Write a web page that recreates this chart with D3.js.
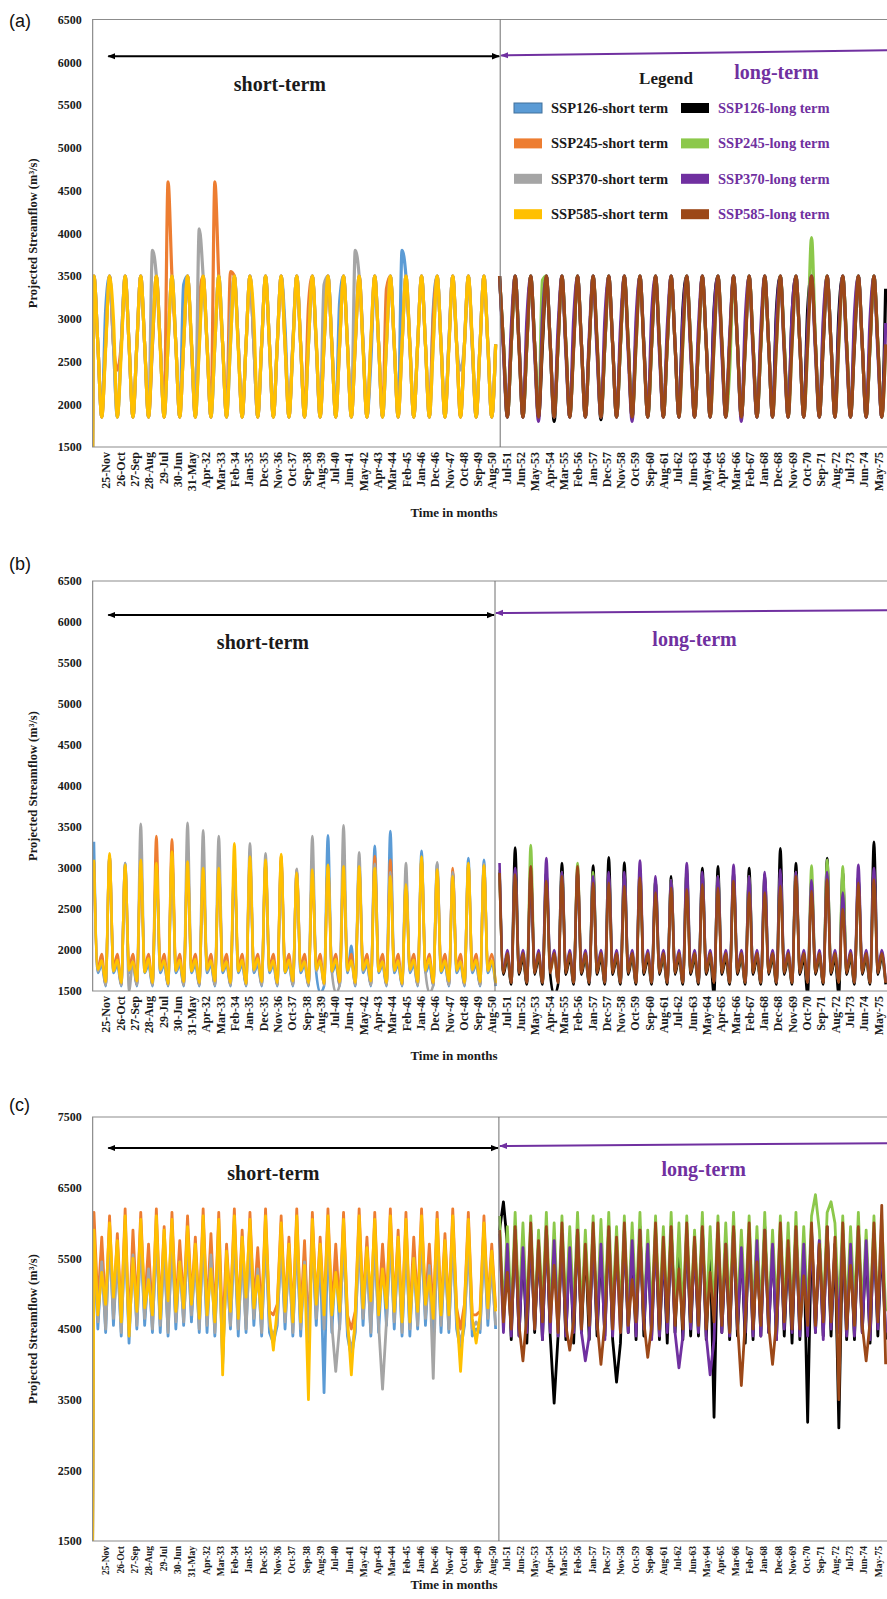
<!DOCTYPE html>
<html><head><meta charset="utf-8">
<script src="https://cdn.jsdelivr.net/npm/d3@7"></script>
<style>
body{margin:0;background:#fff}
svg{display:block}
text{font-family:"Liberation Serif","Times New Roman",serif;font-weight:bold;fill:#1a1a1a}
</style></head><body>
<svg id="chart" width="887" height="1599"></svg>
<script>
// ---------------- DATA ----------------
// x tick labels (every 11 months starting Nov 2025)
const tickLabels = ["25-Nov","26-Oct","27-Sep","28-Aug","29-Jul","30-Jun","31-May","Apr-32","Mar-33","Feb-34","Jan-35","Dec-35","Nov-36","Oct-37","Sep-38","Aug-39","Jul-40","Jun-41","May-42","Apr-43","Mar-44","Feb-45","Jan-46","Dec-46","Nov-47","Oct-48","Sep-49","Aug-50","Jul-51","Jun-52","May-53","Apr-54","Mar-55","Feb-56","Jan-57","Dec-57","Nov-58","Oct-59","Sep-60","Aug-61","Jul-62","Jun-63","May-64","Apr-65","Mar-66","Feb-67","Jan-68","Dec-68","Nov-69","Oct-70","Sep-71","Aug-72","Jul-73","Jun-74","May-75"];
const tickMonths = tickLabels.map((d,i)=>10+11*i); // months since Jan 2025
const yTicksAB = [1500,2000,2500,3000,3500,4000,4500,5000,5500,6000,6500];
const yTicksC = [1500,2500,3500,4500,5500,6500,7500];
const seriesNames = ["SSP126-short term","SSP245-short term","SSP370-short term","SSP585-short term","SSP126-long term","SSP245-long term","SSP370-long term","SSP585-long term"];
// values sampled Feb, May, Aug, Nov of each year; short term 2025-2050, long term 2051-2075
const shortStartMonth = 1, longStartMonth = 313, sampleStep = 3;
const firstValue = {a:1500, b:null, c:1500}; // Jan 2025 value

// ---- panel (a)
const aShort126 = [
3500,2700,1850,3100, 3500,2700,1850,2700, 3500,2700,1850,2700, 3500,2700,1850,2700,
3500,2700,1850,2700, 3500,2700,1850,3400, 3500,2700,1850,2700, 3500,2700,1850,2700,
3500,2700,1850,2700, 3500,2700,1850,2700, 3500,2700,1850,2700, 3500,2700,1850,2700,
3500,2900,1850,2700, 3500,2700,1850,2700, 3500,2700,1850,2700, 3500,2700,1850,3200,
3500,2700,1850,2700, 3500,2700,1850,2500, 3500,2700,1850,2700, 3500,2700,1850,3800,
3500,2700,1850,2700, 3500,2700,1850,3100, 3500,2700,1850,2700, 3500,2700,1850,2700,
3500,2700,1850,2700, 3500,2700,1850,2700];
const aShort245 = [
3500,2700,1850,2700, 3500,2700,2400,2700, 3500,2700,1850,2700, 3500,2700,1850,2700,
3500,2700,1850,4600, 3500,2700,1850,2700, 3500,2700,1850,3200, 3500,2700,1850,4600,
3500,2700,1850,3550, 3500,2700,1850,2700, 3500,2700,1850,2700, 3500,2700,1850,2700,
3500,2700,1850,2700, 3500,2700,1850,3150, 3500,2700,1850,2700, 3500,2700,1850,2700,
3500,2700,1850,2700, 3500,2700,1850,2700, 3500,2700,1850,3350, 3500,2700,1850,2700,
3500,2700,1850,2700, 3500,2700,1850,3000, 3500,2700,1850,2700, 3500,2700,1850,2700,
3500,2700,1850,2700, 3500,2700,1850,2700];
const aShort370 = [
3500,2700,1850,2700, 3500,2700,1850,2700, 3500,2700,1850,2700, 3500,2700,1850,3800,
3500,2700,1850,2700, 3500,2700,1850,2700, 3500,2700,1850,4050, 3500,2700,1850,2700,
3500,2700,1850,3000, 3500,2700,1850,2700, 3500,2700,1850,2700, 3500,2700,1850,2700,
3500,2700,1850,2700, 3500,2700,1850,2700, 3500,2700,1850,3400, 3500,2700,1850,2700,
3500,2700,1850,3800, 3500,2700,1850,2700, 3500,2700,1850,2700, 3500,2700,1850,2700,
3500,2700,1850,2700, 3500,2700,1850,2700, 3500,2700,1850,2700, 3500,2700,2400,2700,
3500,2700,1850,2700, 3500,2700,1850,2700];
const aShort585 = [
3500,2700,1850,2650, 3500,3000,1850,2600, 3500,2700,1850,2700, 3500,2700,1850,2750,
3500,2650,1850,2700, 3500,2700,1850,2700, 3500,2750,1850,2650, 3500,2700,1850,2700,
3500,2700,1850,2700, 3500,2650,1850,2700, 3500,3000,1850,2700, 3500,2700,1850,2700,
3500,2700,1850,2650, 3500,2700,1850,2700, 3500,2750,1850,2700, 3500,2700,1850,2700,
3500,2700,1850,2700, 3500,2650,1850,2750, 3500,2700,1850,2700, 3500,2700,1850,2700,
3500,2700,1850,2700, 3500,2700,1850,2700, 3500,2700,1850,2650, 3500,2700,1850,2700,
3500,2750,1850,2700, 3500,2700,1850,2700];
const aLong126 = [
3500,2700,1850,2700, 3500,2700,1850,2700, 3500,2700,1850,2700, 3500,2700,1800,2700,
3500,2700,1850,2700, 3500,2700,1850,2700, 3500,2700,1820,2700, 3500,2700,1850,2700,
3500,2700,1850,2800, 3500,2700,1850,2700, 3500,2700,1850,2700, 3500,2700,1850,3100,
3500,2700,1850,2700, 3500,2700,1850,3100, 3500,2700,1850,2700, 3500,2700,1850,2700,
3500,2700,1850,2700, 3500,2700,1850,3100, 3500,2700,1850,3050, 3500,2700,1850,3100,
3500,2700,1850,2700, 3500,2700,1850,3050, 3500,2700,1850,2700, 3500,2700,1850,2700,
3500,2700,1850,3350];
const aLong245 = [
3500,2700,1850,2700, 3500,2700,1850,2700, 3500,2700,1850,3450, 3500,2700,1850,2700,
3500,2700,1850,2700, 3500,2700,1850,2700, 3500,2700,1850,2700, 3500,2700,1850,2700,
3500,2700,1850,2700, 3500,2700,1850,2700, 3500,2700,1850,2700, 3500,2700,1850,2700,
3500,2700,1850,2700, 3500,2700,1850,2700, 3500,2700,1850,2400, 3500,2700,1850,2700,
3500,2700,1850,2700, 3500,2700,1850,2700, 3500,2700,1850,2700, 3500,2700,1850,2700,
3950,2700,1850,2900, 3500,2700,1850,2700, 3500,2700,1850,2900, 3500,2700,1850,2700,
3500,2700,1850,2700];
const aLong370 = [
3500,2600,1850,2900, 3500,2700,1850,3000, 3500,2600,1800,3000, 3500,2700,1850,2900,
3500,2600,1850,3000, 3500,2700,1850,2800, 3500,2600,1850,3000, 3500,2700,1850,2900,
3500,2600,1800,3000, 3500,2700,1850,3050, 3500,2600,1850,2900, 3500,2700,1850,3000,
3500,2600,1850,2900, 3500,2700,1850,3050, 3500,2600,1850,2800, 3500,2700,1800,3000,
3500,2600,1850,2900, 3500,2700,1850,3000, 3500,2600,1850,3050, 3500,2700,1850,2900,
3500,2600,1850,3000, 3500,2700,1850,2900, 3500,2600,1850,3050, 3500,2700,1850,3000,
3500,2600,1850,2950];
const aLong585 = [
3500,2700,1850,2700, 3500,2650,1850,2700, 3500,2700,1850,2750, 3500,2700,1850,2700,
3500,2700,1850,2650, 3500,2700,1850,2700, 3500,2750,1850,2700, 3500,2700,1850,2700,
3500,2700,1850,2700, 3500,2650,1850,2700, 3500,2700,1850,2700, 3500,2700,1850,2750,
3500,2700,1850,2700, 3500,2700,1850,2700, 3500,2750,1850,2700, 3500,2700,1850,2650,
3500,2700,1850,2700, 3500,2700,1850,2700, 3500,2650,1850,2700, 3500,2700,1850,2700,
3500,2700,1850,2700, 3500,2700,1850,2750, 3500,2700,1850,2700, 3500,2700,1850,2700,
3500,2700,1850,2700];

// ---- panel (b)
const bShort126 = [
3320,1720,1820,1560, 3150,1720,1820,1560, 3060,1720,1820,1560, 3050,1720,1820,1560,
3000,1720,1820,1560, 3100,1720,1820,1560, 3050,1720,1820,1560, 2950,1720,1820,1560,
2980,1720,1820,1560, 3050,1720,1820,1560, 3050,1720,1820,1560, 3050,1720,1820,1560,
3100,1720,1820,1560, 2950,1720,1820,1560, 3000,1720,1480,1560, 3400,1720,1820,1560,
3000,1720,2050,1560, 3050,1720,1820,1560, 3270,1720,1820,1560, 3450,1720,1820,1560,
2850,1720,1820,1560, 3210,1720,1820,1560, 3050,1720,1820,1560, 2950,1720,1820,1560,
3120,1720,1820,1560, 3100,1720,1820,1560];
const bShort245 = [
3080,1790,1950,1580, 3150,1790,1950,1580, 3020,1790,1950,1580, 3080,1790,1950,1580,
3390,1790,1950,1580, 3350,1790,1950,1580, 3100,1790,1950,1580, 2960,1790,1950,1580,
3020,1790,1950,1580, 3050,1790,1950,1580, 3100,1790,1950,1580, 3050,1790,1950,1580,
3150,1790,1950,1580, 2980,1790,1950,1580, 2950,1790,1950,1580, 3020,1790,1950,1580,
3000,1790,1950,1580, 3000,1790,1950,1580, 3145,1790,1950,1580, 3100,1790,1950,1580,
2850,1790,1950,1580, 3100,1790,1950,1580, 3000,1790,1950,1580, 3000,1790,1950,1580,
3030,1790,1950,1580, 3030,1790,1950,1580];
const bShort370 = [
3050,1740,1860,1570, 3120,1740,1860,1570, 3060,1500,1860,1570, 3540,1740,1860,1570,
3000,1740,1860,1570, 3150,1740,1860,1570, 3550,1740,1860,1570, 3460,1740,1860,1570,
3390,1740,1860,1570, 3000,1740,1860,1570, 3300,1740,1860,1570, 3180,1740,1860,1570,
3050,1740,1860,1570, 2990,1740,1860,1570, 3390,1740,1860,1570, 3000,1740,1480,1570,
3520,1740,1860,1570, 3190,1740,1860,1570, 3050,1740,1860,1570, 2950,1740,1860,1570,
3060,1740,1860,1570, 3100,1740,1480,1570, 3070,1740,1860,1570, 2950,1740,1860,1570,
3050,1740,1860,1570, 3050,1740,1860,1570];
const bShort585 = [
3100,1760,1870,1610, 3180,1740,1880,1600, 3040,1750,1860,1620, 3100,1730,1900,1600,
3060,1760,1870,1590, 3200,1750,1880,1610, 3080,1740,1890,1600, 3000,1760,1870,1620,
3000,1750,1860,1600, 3300,1740,1880,1590, 3140,1760,1900,1610, 3100,1750,1870,1600,
3170,1730,1880,1620, 2940,1750,1860,1600, 2980,1760,1870,1590, 3040,1740,1890,1610,
3020,1750,1870,1600, 3020,1760,1880,1620, 3000,1740,1860,1600, 2900,1750,1870,1590,
2800,1760,1880,1610, 3140,1750,1900,1600, 2980,1740,1870,1620, 2900,1750,1860,1600,
3060,1760,1880,1610, 3030,1750,1870,1600];
const bLong126 = [
2950,1700,1900,1580, 3250,1700,1900,1580, 2900,1700,1900,1580, 2950,1700,1450,1580,
3060,1700,1900,1580, 2950,1700,1900,1580, 3030,1700,1900,1580, 3130,1700,1900,1580,
3065,1700,1900,1580, 2980,1700,1900,1580, 2850,1700,1900,1580, 2900,1700,1900,1580,
2950,1700,1900,1580, 3000,1700,1900,1450, 3020,1700,1900,1580, 2950,1700,1900,1580,
3000,1700,1900,1580, 2920,1700,1900,1580, 3240,1700,1900,1580, 3060,1700,1900,1450,
2800,1700,1900,1580, 3120,1700,1900,1450, 2950,1700,1900,1580, 2900,1700,1900,1580,
3320,1700,1900,1580];
const bLong245 = [
2980,1750,1950,1610, 2950,1750,1950,1610, 3280,1750,1950,1610, 2900,1750,1950,1610,
2950,1750,1950,1610, 3060,1750,1950,1610, 2950,1750,1950,1610, 2900,1750,1950,1610,
2900,1750,1950,1610, 2950,1750,1950,1610, 2850,1750,1950,1610, 2850,1750,1950,1610,
3000,1750,1950,1610, 2900,1750,1950,1610, 2900,1750,1950,1610, 2900,1750,1950,1610,
2900,1750,1950,1610, 2850,1750,1950,1610, 2900,1750,1950,1610, 2950,1750,1950,1610,
3030,1750,1950,1610, 3100,1750,1950,1610, 3020,1750,1950,1610, 2850,1750,1950,1610,
2900,1750,1950,1610];
const bLong370 = [
3060,1760,2000,1610, 3000,1760,2000,1610, 2950,1760,2000,1610, 3120,1760,2000,1610,
2950,1760,2000,1610, 2980,1760,2000,1610, 2900,1760,2000,1610, 2950,1760,2000,1610,
2950,1760,2000,1610, 3090,1760,2000,1610, 2900,1760,2000,1610, 2850,1760,2000,1610,
3060,1760,2000,1610, 2950,1760,2000,1610, 2900,1760,2000,1610, 3040,1760,2000,1610,
2900,1760,2000,1610, 2950,1760,2000,1610, 2980,1760,2000,1610, 2950,1760,2000,1610,
2850,1760,2000,1610, 2950,1760,2000,1610, 2700,1760,2000,1610, 3040,1760,2000,1610,
3000,1760,2000,1610];
const bLong585 = [
2940,1720,1960,1600, 2920,1720,1960,1600, 3020,1720,1960,1600, 2840,1720,1960,1600,
2900,1720,1960,1600, 3020,1720,1960,1600, 2820,1720,1960,1600, 2820,1720,1960,1600,
2780,1720,1960,1600, 2880,1720,1960,1600, 2700,1720,1960,1600, 2760,1720,1960,1600,
2740,1720,1960,1600, 2800,1720,1960,1600, 2760,1720,1960,1600, 2840,1720,1960,1600,
2700,1720,1960,1600, 2700,1720,1960,1600, 2780,1720,1960,1600, 2900,1720,1960,1600,
2720,1720,1960,1600, 2860,1720,1960,1600, 2500,1720,1960,1600, 2820,1720,1960,1600,
2860,1720,1960,1600];

// ---- panel (c)
const cShort126 = [
5800,4500,5500,4450, 5850,4550,5600,4400, 5900,4300,5650,4500, 5800,4550,5400,4450,
5850,4450,5700,4400, 5800,4500,5550,4550, 5750,4600,5600,4450, 5850,4450,5650,4400,
5800,4000,5500,4500, 5850,4400,5700,4450, 5800,4550,5450,4400, 5850,4450,4300,4550,
5750,4500,5600,4400, 5850,4400,5550,4300, 5800,4550,5600,3600, 5850,4450,5500,4500,
5800,4400,4100,4450, 5850,4550,5600,4400, 5800,4450,5500,4550, 5850,4500,5700,4400,
5800,4400,5600,4500, 5850,4550,5500,4400, 5800,4450,5650,4450, 5850,4500,4200,4550,
5800,4400,4500,4450, 5750,4550,5500,4500];
const cShort245 = [
6150,4850,5800,4750, 6100,4800,5850,4700, 6200,4500,5900,4800, 6150,4850,5700,4650,
6200,4750,5950,4700, 6150,4800,5750,4850, 6100,4900,5800,4750, 6200,4750,5850,4650,
6150,4400,5700,4800, 6200,4700,5900,4750, 6150,4850,5650,4700, 6200,4750,4700,4850,
6100,4800,5800,4650, 6200,4650,5750,4400, 6150,4850,5800,4750, 6200,4750,5700,4800,
6150,4700,4500,4750, 6200,4850,5800,4700, 6150,4750,5700,4850, 6200,4800,5900,4650,
6150,4650,5800,4800, 6200,4850,5700,4700, 6150,4750,5850,4750, 6200,4800,4500,4850,
6150,4700,4700,4750, 6100,4850,5700,4800];
const cShort370 = [
5750,4600,5450,4500, 5800,4650,5500,4450, 5850,4400,5550,4550, 5750,4650,5350,4500,
5800,4550,5600,4450, 5750,4600,5450,4600, 5700,4700,5500,4500, 5800,4550,5550,4450,
5750,4100,5400,4550, 5800,4500,5600,4500, 5750,4650,5350,4450, 5800,4550,4400,4600,
5700,4600,5500,4450, 5800,4500,5450,4350, 5750,4650,5500,4500, 5800,4550,3900,4550,
5750,4500,4200,4500, 5800,4650,5500,4450, 5750,4550,3650,4600, 5800,4600,5600,4450,
5750,4500,5500,4550, 5800,4650,5400,3800, 5750,4550,5550,4500, 5800,4600,4300,4600,
5750,4500,4600,4500, 5700,4650,5400,4550];
const cShort585 = [
5900,4700,5300,4850, 6000,4950,5750,4600, 6100,4400,5500,4750, 6050,4800,5200,4700,
6100,4650,5900,4900, 6050,4750,5450,4800, 5950,4850,5700,4650, 6100,4700,5350,4600,
6050,3850,5600,4750, 6100,4650,5800,4950, 6050,4800,5250,4650, 6100,4700,4200,4800,
6000,4750,5700,4600, 6100,4600,5400,3500, 6050,4850,5700,4700, 6100,4700,5300,4750,
6050,4650,3850,4700, 6100,4800,5650,4900, 6050,4700,5350,4800, 6100,4750,5800,4600,
6050,4600,5500,4750, 6100,4850,5250,4650, 6050,4700,5750,4700, 6100,4750,3900,4800,
6050,4650,4300,4700, 6000,4800,5600,4750];
const cLong126 = [
5900,6300,5700,4350, 5950,4400,5650,4300, 5900,4450,5700,4350, 5950,4400,3450,4400,
5900,4350,5750,4300, 5950,4450,5700,4350, 5900,4400,5650,4400, 5950,4350,3750,4300,
5900,4450,5700,4350, 5950,4400,5750,4400, 5900,4350,5650,4300, 5950,4450,5700,4350,
5900,4400,5750,4400, 5950,4350,5700,3250, 5900,4450,5650,4350, 5950,4400,5700,4300,
5900,4350,5750,4400, 5950,4450,5700,4350, 5900,4400,5650,4300, 5950,4350,5700,3180,
5900,4450,5750,4400, 5950,4400,5700,3100, 5900,4350,5650,4350, 5950,4450,5700,4300,
5900,4400,5750,4350];
const cLong245 = [
6100,4700,5950,4750, 6150,4750,6000,4700, 6100,4650,5900,4800, 6150,4700,6000,4650,
6100,4750,5950,4750, 6150,4700,5900,4700, 6100,4650,6050,4750, 6150,4750,5950,4700,
6100,4700,6000,4800, 6150,4650,5900,4700, 6100,4750,5950,4750, 6150,4700,6000,4650,
6100,4750,5900,4750, 6150,4650,5950,4700, 6100,4700,6000,4750, 6150,4750,5900,4800,
6100,4700,5950,4700, 6150,4650,5900,4750, 6100,4750,6000,4700, 6150,4700,5950,4750,
6100,6400,5900,4700, 6150,6300,6000,4750, 6100,4700,5950,4800, 6150,4750,5900,4700,
6100,4700,6050,4750];
const cLong370 = [
5850,4450,5700,4400, 5900,4400,5650,4450, 5850,4500,5700,4350, 5900,4450,5750,4400,
5850,4400,5650,4450, 5900,4450,4050,4400, 5850,4500,5700,4350, 5900,4400,5650,4450,
5850,4450,5750,4400, 5900,4500,5700,4350, 5850,4400,5650,4450, 5900,4450,3950,4400,
5850,4500,5700,4450, 5900,4400,3850,4350, 5850,4450,5700,4400, 5900,4500,5650,4450,
5850,4400,5750,4400, 5900,4450,5700,4350, 5850,4500,5650,4450, 5900,4400,5700,4400,
5850,4450,5750,4350, 5900,4500,5650,4450, 5850,4400,5700,4400, 5900,4450,5750,4350,
5850,4500,5800,4450];
const cLong585 = [
5900,4600,5300,4500, 5950,4550,4050,4700, 6000,4500,5750,4600, 5950,4600,5400,4450,
6000,4550,4200,4600, 5900,4500,5700,4550, 6000,4600,4000,4600, 5950,4500,5800,4450,
6000,4550,5200,4600, 5900,4600,4100,4550, 6000,4500,5800,4600, 5950,4550,5350,4500,
6000,4600,5800,4550, 5950,4500,5300,4600, 6000,4550,5700,4450, 5950,4600,3700,4600,
6000,4500,5450,4550, 5900,4550,4000,4600, 6000,4600,5750,4500, 5950,4500,5250,4550,
6000,4550,5700,4600, 5950,4600,5800,3500, 6000,4500,5400,4550, 5950,4550,4050,4600,
6000,4600,6250,4000];

// ---------------- STYLE / LAYOUT ----------------
const colors = ["#5B9BD5","#ED7D31","#A5A5A5","#FFC000","#000000","#8CC84B","#7030A0","#9C4818"];
const purple = "#7030A0";
const W = 887, xLeft = 92.65, xRight = 886.95;

const panels = [
  {key:"a", tag:"(a)", tagY:27, top:19.5, bottom:447, yDomain:[1500,6500], yTicks:yTicksAB, lw:3.2, curve:d3.curveMonotoneX, tickFont:12,
   short:[aShort126,aShort245,aShort370,aShort585], long:[aLong126,aLong245,aLong370,aLong585],
   divider:313.5, arrowY:6070, purpleY:[6080,6140], shortText:[144,5740], longText:[526,5890], legend:true, titleY:517},
  {key:"b", tag:"(b)", tagY:570, top:581, bottom:991, yDomain:[1500,6500], yTicks:yTicksAB, lw:2.6, curve:d3.curveMonotoneX, tickFont:12,
   short:[bShort126,bShort245,bShort370,bShort585], long:[bLong126,bLong245,bLong370,bLong585],
   divider:309.5, arrowY:6085, purpleY:[6110,6145], shortText:[131,5756], longText:[463,5790], legend:false, titleY:1060},
  {key:"c", tag:"(c)", tagY:1111, top:1117, bottom:1541, yDomain:[1500,7500], yTicks:yTicksC, lw:2.8, curve:d3.curveLinear, tickFont:9.5,
   short:[cShort126,cShort245,cShort370,cShort585], long:[cLong126,cLong245,cLong370,cLong585],
   divider:312.5, arrowY:7060, purpleY:[7090,7130], shortText:[139,6707], longText:[470,6764], legend:false, titleY:1589}
];

const svg = d3.select("#chart");
const defs = svg.append("defs");
function mkMarker(id, color){
  defs.append("marker").attr("id",id).attr("viewBox","0 -5 10 10").attr("refX",9).attr("refY",0)
    .attr("markerWidth",8).attr("markerHeight",8).attr("markerUnits","userSpaceOnUse")
    .attr("orient","auto-start-reverse")
    .append("path").attr("d","M0,-4L10,0L0,4Z").attr("fill",color);
}
mkMarker("arrBlack","#000");
mkMarker("arrPurple",purple);

const x = d3.scaleLinear().domain([0,611]).range([xLeft,xRight]);

panels.forEach(p=>{
  const y = d3.scaleLinear().domain(p.yDomain).range([p.bottom,p.top]);
  const g = svg.append("g");

  g.append("text").attr("x",9).attr("y",p.tagY).text(p.tag)
    .style("font-family","'Liberation Sans',Arial,sans-serif").style("font-weight","normal")
    .style("font-size","18px").style("fill","#111");

  defs.append("clipPath").attr("id","clip"+p.key).append("rect")
    .attr("x",xLeft).attr("y",p.top).attr("width",W-xLeft+2).attr("height",p.bottom-p.top);

  const line = d3.line().x(d=>x(d.m)).y(d=>y(d.v)).curve(p.curve);
  const lg = g.append("g").attr("clip-path",`url(#clip${p.key})`);
  p.short.forEach((arr,i)=>{
    let pts = arr.map((v,j)=>({m:shortStartMonth+sampleStep*j, v}));
    if(firstValue[p.key]!==null) pts = [{m:0,v:firstValue[p.key]}].concat(pts);
    lg.append("path").attr("d",line(pts)).attr("fill","none").attr("stroke",colors[i])
      .attr("stroke-width",p.lw).attr("stroke-linejoin","round");
  });
  p.long.forEach((arr,i)=>{
    const pts = arr.map((v,j)=>({m:longStartMonth+sampleStep*j, v}));
    lg.append("path").attr("d",line(pts)).attr("fill","none").attr("stroke",colors[4+i])
      .attr("stroke-width",p.lw).attr("stroke-linejoin","round");
  });

  g.append("path").attr("d",`M${W+2},${p.top}H${xLeft}V${p.bottom}H${W+2}`)
    .attr("fill","none").attr("stroke","#8c8c8c").attr("stroke-width",1.2);
  g.append("line").attr("x1",x(p.divider)).attr("x2",x(p.divider)).attr("y1",p.top).attr("y2",p.bottom)
    .attr("stroke","#6f6f6f").attr("stroke-width",1);

  const ya = g.append("g").attr("transform",`translate(${xLeft},0)`)
    .call(d3.axisLeft(y).tickValues(p.yTicks).tickSize(0).tickPadding(11).tickFormat(d3.format("d")));
  ya.select(".domain").remove();
  ya.selectAll("text").style("font-family","'Liberation Serif','Times New Roman',serif")
    .style("font-weight","bold").style("font-size","12px").style("fill","#1a1a1a");

  const xa = g.append("g").attr("transform",`translate(0,${p.bottom})`)
    .call(d3.axisBottom(x).tickValues(tickMonths).tickSize(0).tickFormat((d,i)=>tickLabels[i]));
  xa.select(".domain").remove();
  xa.selectAll("text").attr("transform","rotate(-90)").attr("x",-5).attr("y",0).attr("dy","0.35em")
    .style("text-anchor","end").style("font-family","'Liberation Serif','Times New Roman',serif")
    .style("font-weight","bold").style("font-size",p.tickFont+"px").style("fill","#1a1a1a");

  g.append("text").attr("transform",`translate(37,${(p.top+p.bottom)/2}) rotate(-90)`)
    .attr("text-anchor","middle").style("font-size","12.5px")
    .text("Projected Streamflow (m³/s)");
  g.append("text").attr("x",454).attr("y",p.titleY).attr("text-anchor","middle")
    .style("font-size","13px").text("Time in months");

  g.append("line").attr("x1",x(12)).attr("x2",x(p.divider)-1).attr("y1",y(p.arrowY)).attr("y2",y(p.arrowY))
    .attr("stroke","#000").attr("stroke-width",2)
    .attr("marker-start","url(#arrBlack)").attr("marker-end","url(#arrBlack)");
  g.append("line").attr("x1",x(p.divider)+1).attr("x2",W+5).attr("y1",y(p.purpleY[0])).attr("y2",y(p.purpleY[1]))
    .attr("stroke",purple).attr("stroke-width",2).attr("marker-start","url(#arrPurple)");

  g.append("text").attr("x",x(p.shortText[0])).attr("y",y(p.shortText[1])).attr("dy","0.35em")
    .attr("text-anchor","middle").style("font-size","20px").text("short-term");
  g.append("text").attr("x",x(p.longText[0])).attr("y",y(p.longText[1])).attr("dy","0.35em")
    .attr("text-anchor","middle").style("font-size","20px").style("fill",purple).text("long-term");

  if(p.legend){
    const lgd = g.append("g");
    lgd.append("text").attr("x",666).attr("y",78).attr("dy","0.35em").attr("text-anchor","middle")
      .style("font-size","17px").text("Legend");
    seriesNames.forEach((n,i)=>{
      const col = i<4?0:1, row = i%4;
      const sx = col===0?514:681, cy = 108+35.4*row;
      lgd.append("rect").attr("x",sx).attr("y",cy-5).attr("width",28).attr("height",10)
        .attr("fill",colors[i]).attr("stroke",i===0?"#41719C":"none").attr("stroke-width",1);
      lgd.append("text").attr("x",sx+37).attr("y",cy).attr("dy","0.35em")
        .style("font-size","14.5px").style("fill",col===0?"#1a1a1a":purple).text(n);
    });
  }
});
</script>
</body></html>
